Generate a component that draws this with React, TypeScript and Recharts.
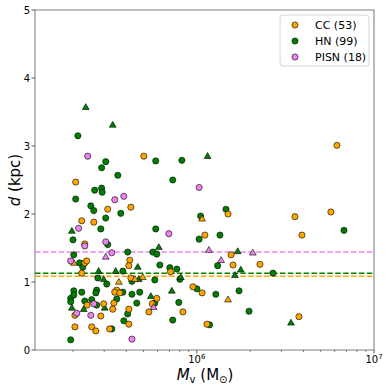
import { ScatterChart, Scatter, XAxis, YAxis, ReferenceLine, ReferenceArea } from "recharts";

const FONT = "DejaVu Sans, sans-serif";

// [M_v (Msun), d (kpc)]
const hnCircles: [number, number][] = [
  [2.13e5, 3.15], [5.86e5, 2.78], [8.23e5, 2.79], [3.06e5, 2.77], [2.9e5, 2.68], [3.58e5, 2.57],
  [7.31e5, 2.5], [2.65e5, 2.35], [2.9e5, 2.38], [2.92e5, 2.32], [2.07e5, 2.22], [2.52e5, 2.12],
  [2.62e5, 2.05], [3.72e5, 2.01], [3.06e5, 1.94], [2.87e5, 1.78], [5.86e5, 1.78], [2.0e5, 1.62],
  [3.14e5, 1.55], [4.07e5, 1.44], [5.64e5, 1.44], [5.94e5, 1.41], [2.02e5, 1.4], [2.18e5, 1.28],
  [2.27e5, 1.22], [6.18e5, 1.25], [3.82e5, 1.16], [7.04e5, 1.21], [7.71e5, 1.19], [2.76e5, 1.06],
  [3.1e5, 0.97], [4.3e5, 1.01], [5.79e5, 1.03], [8.02e5, 1.04], [1.0e6, 0.9], [2.02e5, 0.87],
  [2.24e5, 0.85], [2.72e5, 0.88], [2.69e5, 0.84], [3.82e5, 0.85], [4.76e5, 0.85], [4.3e5, 0.82],
  [1.94e5, 0.76], [2.02e5, 0.81], [1.94e5, 0.71], [2.33e5, 0.72], [2.72e5, 0.66], [2.55e5, 0.74],
  [3.53e5, 0.75], [4.07e5, 0.53], [3.87e5, 0.43], [3.31e5, 0.31], [1.94e5, 0.15], [7.31e5, 0.44],
  [7.91e5, 0.7], [4.58e5, 0.69], [5.79e5, 0.69], [1.46e6, 2.07], [1.05e6, 1.97], [6.77e6, 1.76],
  [1.35e6, 1.69], [1.03e6, 1.63], [1.31e6, 1.24], [2.69e6, 1.13], [1.28e6, 0.82], [1.73e6, 0.87],
  [1.97e6, 0.57], [1.18e6, 0.37],
];
const hnTriangles: [number, number][] = [
  [2.36e5, 3.57], [3.35e5, 3.31], [1.15e6, 2.85], [1.97e5, 1.75], [6.1e5, 1.51], [2.79e5, 1.16],
  [3.48e5, 1.16], [4.64e5, 1.22], [2.98e5, 1.04], [4.7e5, 1.04], [8.12e5, 1.07], [7.22e5, 0.87],
  [5.5e5, 0.79], [1.97e5, 0.62], [3.02e5, 0.62], [2.3e5, 0.6], [1.7e6, 1.45], [1.77e6, 1.18],
  [1.64e6, 1.1], [3.4e6, 0.4],
];
const ccCircles: [number, number][] = [
  [5.02e5, 2.85], [2.07e5, 2.47], [3.14e5, 2.07], [4.24e5, 2.1], [2.24e5, 1.9], [2.62e5, 1.88],
  [2.33e5, 1.56], [4.18e5, 1.32], [2.33e5, 1.28], [2.39e5, 1.31], [4.13e5, 1.24], [2.24e5, 1.13],
  [7.1e5, 1.15], [4.24e5, 1.06], [9.5e5, 0.93], [1.07e6, 0.84], [3.53e5, 0.88], [3.44e5, 0.85],
  [3.67e5, 0.84], [2.98e5, 0.68], [3.4e5, 0.69], [3.35e5, 0.6], [4.13e5, 0.6], [2.05e5, 0.51],
  [2.87e5, 0.5], [4.13e5, 0.38], [2.05e5, 0.34], [2.55e5, 0.34], [2.69e5, 0.28], [3.22e5, 0.31],
  [5.94e5, 0.76], [5.6e5, 0.68], [5.36e5, 0.56], [8.34e5, 0.56], [1.5e6, 2.0], [3.58e6, 1.96],
  [5.71e6, 2.03], [3.92e6, 1.69], [1.11e6, 1.69], [1.56e6, 1.4], [1.6e6, 1.25], [2.27e6, 1.26],
  [3.77e6, 0.49], [1.14e6, 0.38], [6.18e6, 3.01], [2.4e5, 0.66],
];
const ccTriangles: [number, number][] = [
  [2.02e5, 1.28], [3.63e5, 1.0], [4.47e5, 1.04], [4.95e5, 1.07], [1.07e6, 1.93], [1.5e6, 0.74],
];
const pisnCircles: [number, number][] = [
  [2.42e5, 2.85], [3.87e5, 2.26], [3.44e5, 2.21], [1.03e6, 2.39], [2.15e5, 1.79], [6.95e5, 1.71],
  [3.06e5, 1.59], [2.33e5, 1.53], [3.31e5, 1.43], [1.94e5, 1.31], [2.62e5, 0.68], [2.1e5, 0.54],
  [2.52e5, 0.51], [4.3e5, 0.16],
];
const pisnTriangles: [number, number][] = [
  [3.06e5, 1.37], [1.17e6, 1.47], [2.07e6, 1.43], [1.37e6, 1.32], [5.7e5, 0.63],
];

const ccMean = 1.085;
const hnMean = 1.13;
const pisnMean = 1.44;

const legendLabels = ["CC (53)", "HN (99)", "PISN (18)"];
const xDomain = [1.22e5, 1e7];
const xTicks = [2e5, 3e5, 4e5, 5e5, 6e5, 7e5, 8e5, 9e5, 1e6, 2e6, 3e6, 4e6, 5e6, 6e6, 7e6, 8e6, 9e6, 1e7];
const yTicks = [0, 1, 2, 3, 4, 5];

const CC = "orange";
const HN = "green";
const PISN = "violet";

const pts = (a: [number, number][]) => a.map(([m, d]) => ({ m, d }));

const dot = (fill: string) => (p: any) => (
  <circle cx={p.cx} cy={p.cy} r={3.1} fill={fill} stroke="#000" strokeWidth={0.6} />
);
const tri = (fill: string) => (p: any) => (
  <polygon
    points={`${p.cx},${p.cy - 3.6} ${p.cx - 3.4},${p.cy + 2.3} ${p.cx + 3.4},${p.cy + 2.3}`}
    fill={fill}
    stroke="#000"
    strokeWidth={0.6}
  />
);

function XTick({ x, y, payload }: any) {
  const v = payload.value;
  const exp = Math.round(Math.log10(v));
  const major = Math.abs(v - Math.pow(10, exp)) < 1;
  return (
    <g>
      <line x1={x} x2={x} y1={y} y2={y + (major ? 3.5 : 2)} stroke="#333" strokeWidth={major ? 0.8 : 0.6} />
      {major && (
        <text x={x} y={y + 13} textAnchor="middle" fontSize={10} fontFamily={FONT} fill="#000">
          10<tspan dy={-4} fontSize={7}>{exp}</tspan>
        </text>
      )}
    </g>
  );
}

function YTick({ x, y, payload }: any) {
  return (
    <g>
      <line x1={x - 3.5} x2={x} y1={y} y2={y} stroke="#333" strokeWidth={0.8} />
      <text x={x - 5} y={y + 3.6} textAnchor="end" fontSize={10} fontFamily={FONT} fill="#000">
        {payload.value}
      </text>
    </g>
  );
}

const dash = "5.5 2.4";

export default function App() {
  return (
    <div style={{ position: "absolute", left: 0, top: 0, width: 390, height: 390, background: "#fff" }}>
      <ScatterChart width={390} height={390} margin={{ top: 10, right: 16, bottom: 0, left: 0 }}>
        <XAxis
          type="number"
          dataKey="m"
          scale="log"
          domain={xDomain}
          allowDataOverflow
          ticks={xTicks}
          interval={0}
          tick={<XTick />}
          tickSize={0}
          tickMargin={0}
          tickLine={false}
          axisLine={false}
          height={40}
        />
        <YAxis
          type="number"
          dataKey="d"
          domain={[0, 5]}
          ticks={yTicks}
          interval={0}
          tick={<YTick />}
          tickSize={0}
          tickMargin={0}
          tickLine={false}
          axisLine={false}
          width={35}
        />
        <Scatter data={pts(hnCircles)} shape={dot(HN)} isAnimationActive={false} />
        <Scatter data={pts(hnTriangles)} shape={tri(HN)} isAnimationActive={false} />
        <Scatter data={pts(ccCircles)} shape={dot(CC)} isAnimationActive={false} />
        <Scatter data={pts(ccTriangles)} shape={tri(CC)} isAnimationActive={false} />
        <Scatter data={pts(pisnCircles)} shape={dot(PISN)} isAnimationActive={false} />
        <Scatter data={pts(pisnTriangles)} shape={tri(PISN)} isAnimationActive={false} />
        <ReferenceLine y={ccMean} stroke={CC} strokeWidth={1.5} strokeDasharray={dash} />
        <ReferenceLine y={hnMean} stroke={HN} strokeWidth={1.5} strokeDasharray={dash} />
        <ReferenceLine y={pisnMean} stroke={PISN} strokeWidth={1.5} strokeDasharray={dash} />
        <ReferenceArea
          x1={xDomain[0]}
          x2={xDomain[1]}
          y1={0}
          y2={5}
          fill="none"
          fillOpacity={0}
          stroke="#aaa"
          strokeWidth={1.6}
          ifOverflow="visible"
        />
      </ScatterChart>
      <svg
        width={390}
        height={390}
        style={{ position: "absolute", left: 0, top: 0, pointerEvents: "none" }}
        fontFamily={FONT}
      >
        <text x={15} y={180} transform="rotate(-90 15 180)" textAnchor="middle" dominantBaseline="central" fontSize={15}>
          <tspan fontStyle="italic">d</tspan> (kpc)
        </text>
        <text x={205} y={380} textAnchor="middle" fontSize={15}>
          <tspan fontStyle="italic">M</tspan>
          <tspan fontSize={10} dy={3}>v</tspan>
          <tspan dy={-3}> (M</tspan>
          <tspan fontSize={10} dy={3}>⊙</tspan>
          <tspan dy={-3}>)</tspan>
        </text>
        <rect x={280} y={15} width={89} height={51} rx={3} fill="#fff" fillOpacity={0.8} stroke="#ccc" strokeWidth={0.8} />
        {[CC, HN, PISN].map((c, i) => (
          <g key={c}>
            <circle cx={295} cy={25 + i * 16} r={3.1} fill={c} stroke="#000" strokeWidth={0.6} />
            <text x={315} y={29 + i * 16} fontSize={11} fill="#000">
              {legendLabels[i]}
            </text>
          </g>
        ))}
      </svg>
    </div>
  );
}
